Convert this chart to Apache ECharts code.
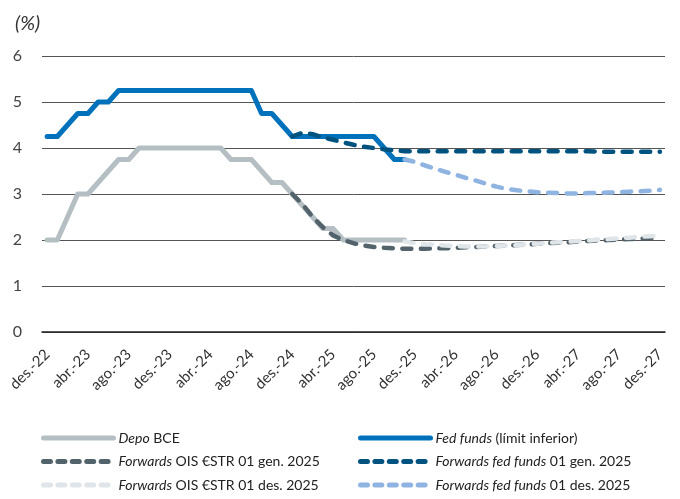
<!DOCTYPE html>
<html>
<head>
<meta charset="utf-8">
<script src="https://cdn.jsdelivr.net/npm/echarts@6/dist/echarts.min.js"></script>
<style>
  html, body { margin: 0; padding: 0; background: #fff; }
  #chart { width: 680px; height: 499px; }
</style>
</head>
<body>
<div id="chart"></div>
<script>
// mesos des-22 ... des-27
const months = [
  'des.-22',
  'gen.-23', 'feb.-23', 'mar.-23', 'abr.-23', 'mai.-23', 'jun.-23', 'jul.-23', 'ago.-23', 'set.-23', 'oct.-23', 'nov.-23', 'des.-23',
  'gen.-24', 'feb.-24', 'mar.-24', 'abr.-24', 'mai.-24', 'jun.-24', 'jul.-24', 'ago.-24', 'set.-24', 'oct.-24', 'nov.-24', 'des.-24',
  'gen.-25', 'feb.-25', 'mar.-25', 'abr.-25', 'mai.-25', 'jun.-25', 'jul.-25', 'ago.-25', 'set.-25', 'oct.-25', 'nov.-25', 'des.-25',
  'gen.-26', 'feb.-26', 'mar.-26', 'abr.-26', 'mai.-26', 'jun.-26', 'jul.-26', 'ago.-26', 'set.-26', 'oct.-26', 'nov.-26', 'des.-26',
  'gen.-27', 'feb.-27', 'mar.-27', 'abr.-27', 'mai.-27', 'jun.-27', 'jul.-27', 'ago.-27', 'set.-27', 'oct.-27', 'nov.-27', 'des.-27'
]

const yTicks = [0, 1, 2, 3, 4, 5, 6]

// des-22 .. nov-25
const depoBce = [
  2.0, 2.0, 2.5, 3.0, 3.0, 3.25, 3.5, 3.75, 3.75, 4.0, 4.0, 4.0, 4.0,
  4.0, 4.0, 4.0, 4.0, 4.0, 3.75, 3.75, 3.75, 3.5, 3.25, 3.25, 3.0,
  2.75, 2.5, 2.25, 2.25, 2.0, 2.0, 2.0, 2.0, 2.0, 2.0, 2.0
]
const fedFunds = [
  4.25, 4.25, 4.5, 4.75, 4.75, 5.0, 5.0, 5.25, 5.25, 5.25, 5.25, 5.25, 5.25,
  5.25, 5.25, 5.25, 5.25, 5.25, 5.25, 5.25, 5.25, 4.75, 4.75, 4.5, 4.25,
  4.25, 4.25, 4.25, 4.25, 4.25, 4.25, 4.25, 4.25, 4.0, 3.75, 3.75
]
// des-24 .. des-27
const oisGen25 = [
  3.0, 2.78, 2.5, 2.28, 2.1, 2.0, 1.93, 1.88, 1.85, 1.83, 1.82, 1.81,
  1.81, 1.81, 1.82, 1.82, 1.83, 1.84, 1.85, 1.86, 1.87, 1.88, 1.89, 1.9,
  1.92, 1.93, 1.94, 1.95, 1.97, 1.98, 1.99, 2.0, 2.01, 2.02, 2.03, 2.04, 2.05
]
const fedFwdGen25 = [
  4.25, 4.33, 4.3, 4.23, 4.18, 4.12, 4.07, 4.03, 4.0, 3.97, 3.95, 3.93,
  3.93, 3.93, 3.93, 3.93, 3.93, 3.93, 3.93, 3.93, 3.93, 3.93, 3.93, 3.93,
  3.93, 3.93, 3.93, 3.93, 3.93, 3.93, 3.92, 3.92, 3.92, 3.92, 3.92, 3.92, 3.92
]
// nov-25 .. des-27
const oisDes25 = [
  1.97, 1.93, 1.91, 1.9, 1.88, 1.87, 1.86, 1.86, 1.86, 1.87, 1.88, 1.89, 1.91,
  1.92, 1.94, 1.95, 1.96, 1.98, 1.99, 2.01, 2.02, 2.04, 2.05, 2.07, 2.08, 2.1
]
const fedFwdDes25 = [
  3.75, 3.7, 3.62, 3.55, 3.48, 3.42, 3.35, 3.29, 3.22, 3.16, 3.11, 3.08, 3.06,
  3.04, 3.03, 3.02, 3.01, 3.01, 3.02, 3.02, 3.03, 3.04, 3.05, 3.06, 3.07, 3.09
]

// posa cada tram a la seva posició dins dels 61 mesos
function place(values, startIdx) {
  const out = months.map(() => null)
  values.forEach((v, i) => { out[startIdx + i] = v })
  return out
}

const FONT = 'Lato'
const dash = [9, 9.5]
const legendDash = [7, 7.4]

const chart = echarts.init(document.getElementById('chart'))

const series = [
  { name: 'Depo BCE', data: place(depoBce, 0), color: '#b5bfc3', width: 5, z: 2 },
  { name: 'Fed funds', data: place(fedFunds, 0), color: '#0072bb', width: 5, z: 2 },
  { name: 'OIS gen', data: place(oisGen25, 24), color: '#52636b', width: 4.5, dashed: true, z: 3 },
  { name: 'Fed gen', data: place(fedFwdGen25, 24), color: '#00527f', width: 4.5, dashed: true, z: 3 },
  { name: 'OIS des', data: place(oisDes25, 35), color: '#dfe5e8', width: 4.5, dashed: true, z: 4 },
  { name: 'Fed des', data: place(fedFwdDes25, 35), color: '#8fb4e1', width: 4.5, dashed: true, z: 4 }
]

const legendText = {
  'Depo BCE': '{i|Depo} BCE',
  'Fed funds': '{i|Fed funds} (límit inferior)',
  'OIS gen': '{i|Forwards} OIS €STR 01 gen. 2025',
  'Fed gen': '{i|Forwards fed funds} 01 gen. 2025',
  'OIS des': '{i|Forwards} OIS €STR 01 des. 2025',
  'Fed des': '{i|Forwards fed funds} 01 des. 2025'
}

function legendItem(s) {
  return {
    name: s.name,
    itemStyle: { opacity: 0 },
    lineStyle: { width: 5, type: s.dashed ? legendDash : 'solid', cap: 'round', color: s.color }
  }
}

function makeLegend(left, names) {
  return {
    orient: 'vertical',
    left: left,
    top: 426,
    itemWidth: 70,
    itemHeight: 6,
    itemGap: 9.5,
    selectedMode: false,
    data: series.filter(s => names.includes(s.name)).map(legendItem),
    formatter: name => legendText[name],
    textStyle: {
      fontFamily: FONT,
      fontSize: 14,
      color: '#222',
      padding: [0, 0, 0, 0],
      rich: {
        i: { fontFamily: FONT, fontSize: 14, fontStyle: 'italic', color: '#222' }
      }
    }
  }
}

chart.setOption({
  animation: false,
  title: {
    text: '(%)',
    left: 10,
    top: 9,
    textStyle: { fontFamily: FONT, fontSize: 20, fontStyle: 'italic', fontWeight: 'normal', color: '#333' }
  },
  grid: { left: 42, right: 15, top: 56, bottom: 167, containLabel: false },
  legend: [
    makeLegend(36, ['Depo BCE', 'OIS gen', 'OIS des']),
    makeLegend(353, ['Fed funds', 'Fed gen', 'Fed des'])
  ],
  xAxis: {
    type: 'category',
    data: months,
    boundaryGap: true,
    axisLine: { lineStyle: { color: '#222', width: 1.5 } },
    axisTick: { interval: 3, length: 5, lineStyle: { color: '#222', width: 1.2 } },
    axisLabel: {
      interval: 3,
      rotate: 45,
      margin: 20,
      fontFamily: FONT,
      fontSize: 15,
      color: '#333'
    },
    splitLine: { show: false }
  },
  yAxis: {
    type: 'value',
    min: yTicks[0],
    max: yTicks[yTicks.length - 1],
    interval: 1,
    axisLine: { show: false },
    axisTick: { show: false },
    axisLabel: { margin: 20, fontFamily: FONT, fontSize: 16, color: '#444' },
    splitLine: { lineStyle: { color: '#555', width: 1 } }
  },
  series: series.map(s => ({
    name: s.name,
    type: 'line',
    data: s.data,
    z: s.z,
    symbol: 'none',
    showSymbol: false,
    connectNulls: false,
    silent: true,
    color: s.color,
    lineStyle: {
      color: s.color,
      width: s.width,
      type: s.dashed ? dash : 'solid',
      cap: 'round',
      join: 'round'
    },
    emphasis: { disabled: true }
  }))
})
</script>
</body>
</html>
